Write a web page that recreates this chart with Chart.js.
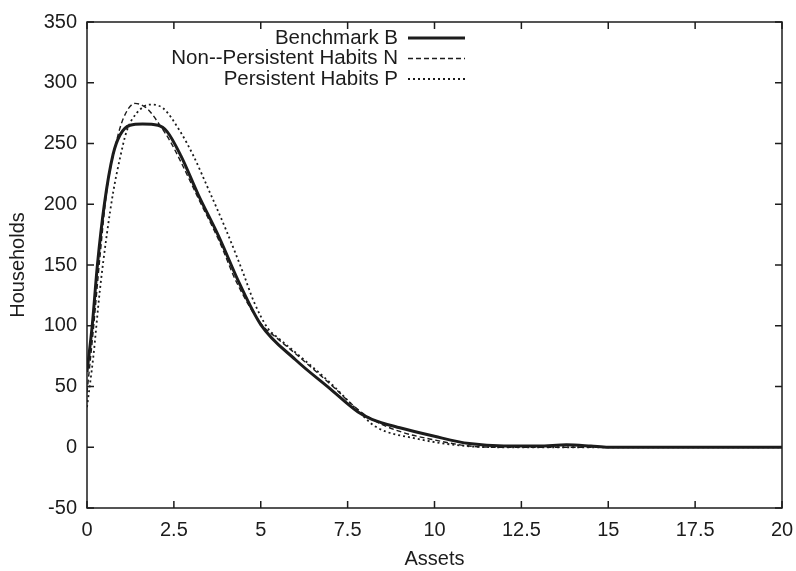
<!DOCTYPE html>
<html>
<head>
<meta charset="utf-8">
<script src="https://cdn.jsdelivr.net/npm/chart.js@4/dist/chart.umd.min.js"></script>
<style>
  html, body { margin: 0; padding: 0; background: #fff; }
  #wrap { width: 796px; height: 571px; }
</style>
</head>
<body>
<div id="wrap"><canvas id="chart" width="796" height="571"></canvas></div>
<script>
// data
const benchAssets = [0, 0.15, 0.3, 0.5, 0.75, 0.95, 1.24, 1.6, 2.04, 2.3, 2.7, 3.2, 3.8, 4.4, 5.0, 6.0, 7.0, 7.8, 8.2, 9.0, 10.0, 11.0, 12.0, 13.0, 13.8, 14.5, 15, 16, 17, 18, 19, 20];
const benchHouseholds = [62, 100, 150, 200, 241, 257, 265, 266, 265, 260, 240, 208, 173, 134, 101, 72, 48, 29, 23, 16, 9, 3, 1, 1, 2, 1, 0, 0, 0, 0, 0, 0];

const nonPersAssets = [0, 0.18, 0.37, 0.57, 0.85, 1.05, 1.38, 1.72, 2.1, 2.39, 2.7, 3.2, 3.8, 4.3, 5.0, 5.5, 6.0, 7.0, 7.8, 8.2, 9.0, 10, 11, 12, 13, 14, 15, 20];
const nonPersHouseholds = [45, 96, 156, 211, 252, 271, 283, 279, 265, 252, 235, 205, 170, 136, 102, 89, 77, 52, 31, 23, 13, 6, 1, 0, 0, 0, 0, 0];

const persAssets = [0, 0.18, 0.37, 0.57, 0.76, 0.95, 1.14, 1.43, 1.81, 2.19, 2.68, 3.06, 3.5, 4.0, 4.5, 4.8, 5.2, 5.5, 6.0, 7.0, 7.8, 8.3, 9.5, 10.9, 12, 13, 14, 15, 20];
const persHouseholds = [33, 74, 129, 175, 211, 238, 260, 275, 282, 279, 260, 240, 212, 179, 143, 120, 98, 90, 78, 53, 30, 17, 7, 1, 0, 0, 0, 0, 0];

const seriesNames = ['Benchmark B', 'Non--Persistent Habits N', 'Persistent Habits P'];

const ink = '#1c1c1c';
const fontFam = '"Liberation Sans", Arial, Helvetica, sans-serif';

function pts(xs, ys) { return xs.map((x, i) => ({ x: x, y: ys[i] })); }

// gnuplot-ish frame with inward ticks on all sides
const framePlugin = {
  id: 'frame',
  afterDraw(chart) {
    const { ctx, chartArea: a, scales } = chart;
    ctx.save();
    ctx.strokeStyle = ink;
    ctx.lineWidth = 1.5;
    ctx.strokeRect(a.left, a.top, a.right - a.left, a.bottom - a.top);
    const tl = 7;
    ctx.beginPath();
    scales.x.ticks.forEach(t => {
      const px = scales.x.getPixelForValue(t.value);
      ctx.moveTo(px, a.bottom); ctx.lineTo(px, a.bottom - tl);
      ctx.moveTo(px, a.top); ctx.lineTo(px, a.top + tl);
    });
    scales.y.ticks.forEach(t => {
      const py = scales.y.getPixelForValue(t.value);
      ctx.moveTo(a.left, py); ctx.lineTo(a.left + tl, py);
      ctx.moveTo(a.right, py); ctx.lineTo(a.right - tl, py);
    });
    ctx.stroke();
    ctx.restore();
  }
};

// legend: text right aligned, line sample to its right
const keyPlugin = {
  id: 'key',
  afterDraw(chart) {
    const ctx = chart.ctx;
    ctx.save();
    ctx.font = '20.5px ' + fontFam;
    ctx.textAlign = 'right';
    ctx.textBaseline = 'middle';
    chart.data.datasets.forEach((ds, i) => {
      const y = 38 + i * 20.5;
      ctx.fillStyle = ink;
      ctx.fillText(ds.label, 398, y);
      ctx.strokeStyle = ds.borderColor;
      ctx.lineWidth = ds.borderWidth;
      ctx.setLineDash(ds.borderDash || []);
      ctx.beginPath();
      ctx.moveTo(408, y); ctx.lineTo(465, y);
      ctx.stroke();
    });
    ctx.restore();
  }
};

new Chart(document.getElementById('chart'), {
  type: 'line',
  data: {
    datasets: [
      { label: seriesNames[0], data: pts(benchAssets, benchHouseholds), borderColor: ink, borderWidth: 3, borderDash: [] },
      { label: seriesNames[1], data: pts(nonPersAssets, nonPersHouseholds), borderColor: ink, borderWidth: 1.4, borderDash: [5, 3] },
      { label: seriesNames[2], data: pts(persAssets, persHouseholds), borderColor: ink, borderWidth: 1.8, borderDash: [2, 3] }
    ]
  },
  options: {
    responsive: false,
    animation: false,
    layout: { padding: { left: 0, right: 14, top: 20, bottom: 0 } },
    elements: { point: { radius: 0 }, line: { cubicInterpolationMode: 'monotone' } },
    plugins: { legend: { display: false }, tooltip: { enabled: false } },
    scales: {
      x: {
        type: 'linear', min: 0, max: 20,
        ticks: { stepSize: 2.5, color: ink, padding: 10, font: { size: 20, family: fontFam }, maxRotation: 0 },
        grid: { display: false, drawTicks: false },
        border: { display: false },
        title: { display: true, text: 'Assets', color: ink, font: { size: 20, family: fontFam }, padding: { top: 0, bottom: 0 } },
        afterFit(s) { s.height = 63; s.paddingLeft = 0; s.paddingRight = 0; }
      },
      y: {
        min: -50, max: 350,
        ticks: { stepSize: 50, color: ink, padding: 10, font: { size: 20, family: fontFam } },
        grid: { display: false, drawTicks: false },
        border: { display: false },
        title: { display: true, text: 'Households', color: ink, font: { size: 20, family: fontFam }, padding: { top: 6, bottom: 0 } },
        afterFit(s) { s.width = 87; }
      }
    }
  },
  plugins: [framePlugin, keyPlugin]
});
</script>
</body>
</html>
